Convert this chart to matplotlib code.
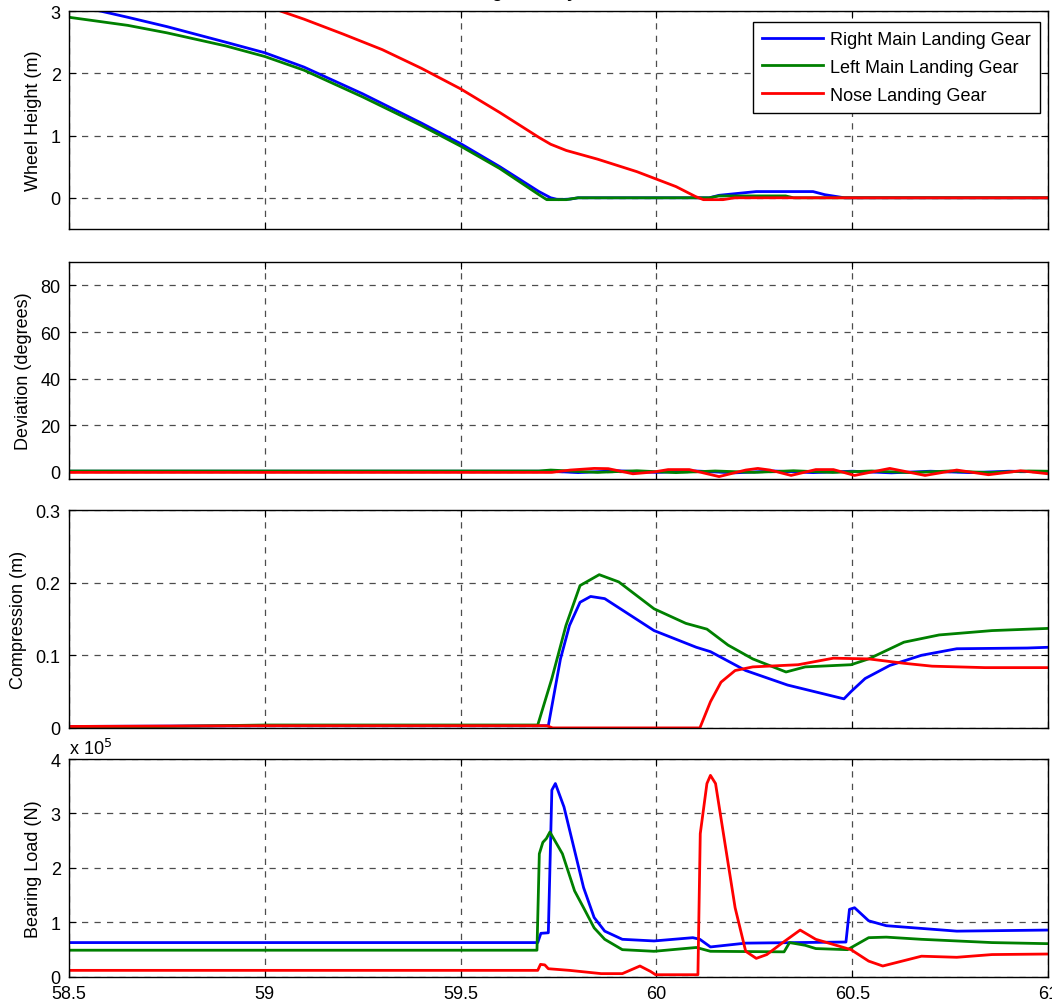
import matplotlib.pyplot as plt

plt.rcParams["font.family"] = ["Liberation Sans", "DejaVu Sans"]
plt.rcParams["font.size"] = 13

labels = ["Right Main Landing Gear", "Left Main Landing Gear", "Nose Landing Gear"]
colors = ["#0000ff", "#008000", "#ff0000"]

# --- wheel height (m) ---
h_right_t = [58.5, 58.58, 58.65, 58.75, 58.9, 59.0, 59.1, 59.25, 59.4, 59.5, 59.6, 59.65, 59.7,
             59.73, 59.75, 59.78, 59.8, 60.135, 60.16, 60.255, 60.40, 60.43, 60.48, 61.0]
h_right = [3.1, 3.0, 2.9, 2.75, 2.5, 2.33, 2.1, 1.67, 1.2, 0.87, 0.5, 0.3, 0.1,
           0.0, -0.03, -0.02, 0.0, 0.0, 0.04, 0.1, 0.1, 0.05, 0.0, 0.0]
h_left_t = [58.5, 58.65, 58.75, 58.9, 59.0, 59.1, 59.25, 59.4, 59.5, 59.6, 59.65, 59.7, 59.72,
            59.77, 59.8, 60.135, 60.16, 60.33, 60.35, 61.0]
h_left = [2.9, 2.77, 2.65, 2.44, 2.27, 2.05, 1.62, 1.16, 0.83, 0.47, 0.26, 0.05, -0.03,
          -0.03, 0.0, 0.0, 0.03, 0.03, 0.0, 0.0]
h_nose_t = [59.0, 59.04, 59.1, 59.2, 59.3, 59.4, 59.5, 59.6, 59.65, 59.7, 59.73, 59.77, 59.85,
            59.95, 60.0, 60.05, 60.1, 60.12, 60.17, 60.2, 61.0]
h_nose = [3.1, 3.0, 2.87, 2.63, 2.38, 2.08, 1.75, 1.37, 1.17, 0.97, 0.86, 0.76, 0.62,
          0.42, 0.3, 0.18, 0.02, -0.03, -0.03, 0.0, 0.0]

# --- deviation (degrees) ---
d_right_t = [58.5, 59.73, 59.8, 59.9, 60.0, 60.1, 60.2, 60.3, 60.4, 60.5, 60.6, 60.7, 60.8, 60.9, 61.0]
d_right = [0.3, 0.3, -0.3, 0.5, -0.2, 0.4, -0.4, 0.4, -0.3, 0.3, -0.4, 0.3, -0.3, 0.3, 0.0]
d_left_t = [58.5, 59.7, 59.73, 59.85, 59.95, 60.05, 60.15, 60.25, 60.35, 60.45, 60.55, 60.65, 60.75, 60.85, 60.95, 61.0]
d_left = [0.4, 0.4, 0.8, -0.2, 0.5, -0.3, 0.4, -0.2, 0.5, -0.2, 0.4, -0.3, 0.4, -0.3, 0.4, 0.3]
d_nose_t = [58.5, 59.733, 59.78, 59.841, 59.877, 59.94, 59.994, 60.03, 60.084, 60.16, 60.228,
            60.259, 60.29, 60.344, 60.407, 60.452, 60.506, 60.596, 60.686, 60.767, 60.848,
            60.93, 61.0]
d_nose = [-0.2, -0.2, 0.8, 1.5, 1.4, -0.8, 0.0, 1.0, 1.0, -2.0, 0.8,
          1.5, 0.8, -1.5, 1.0, 1.0, -1.5, 1.5, -1.5, 0.8, -1.2,
          0.5, -0.8]

# --- compression (m) ---
c_right_t = [58.5, 59.0, 59.724, 59.755, 59.778, 59.805, 59.832, 59.868, 59.994, 60.102, 60.138,
             60.228, 60.335, 60.479, 60.497, 60.533, 60.596, 60.677, 60.767, 60.947, 61.0]
c_right = [0.002, 0.003, 0.003, 0.095, 0.141, 0.173, 0.181, 0.178, 0.134, 0.111, 0.105,
           0.079, 0.059, 0.040, 0.050, 0.068, 0.086, 0.100, 0.109, 0.110, 0.111]
c_left_t = [58.5, 59.0, 59.697, 59.733, 59.769, 59.805, 59.854, 59.904, 59.994, 60.075, 60.129,
            60.183, 60.246, 60.331, 60.380, 60.497, 60.542, 60.632, 60.722, 60.857, 61.0]
c_left = [0.0, 0.004, 0.004, 0.068, 0.141, 0.196, 0.211, 0.201, 0.164, 0.144, 0.136,
          0.114, 0.095, 0.077, 0.084, 0.087, 0.095, 0.118, 0.128, 0.134, 0.137]
c_nose_t = [58.5, 59.0, 59.72, 59.735, 60.111, 60.138, 60.165, 60.201, 60.246, 60.362, 60.452,
            60.542, 60.632, 60.704, 60.839, 61.0]
c_nose = [0.002, 0.003, 0.003, 0.0, 0.0, 0.036, 0.063, 0.079, 0.084, 0.087, 0.096,
          0.095, 0.089, 0.085, 0.083, 0.083]

# --- bearing load (x 1e5 N) ---
b_right_t = [58.5, 59.697, 59.705, 59.724, 59.733, 59.742, 59.764, 59.787, 59.814, 59.841,
             59.868, 59.913, 59.994, 60.093, 60.111, 60.138, 60.228, 60.484, 60.493, 60.506,
             60.542, 60.587, 60.677, 60.767, 61.0]
b_right = [0.63, 0.63, 0.8, 0.81, 3.43, 3.55, 3.12, 2.44, 1.64, 1.09,
           0.84, 0.69, 0.66, 0.72, 0.69, 0.55, 0.62, 0.64, 1.24, 1.27,
           1.03, 0.94, 0.89, 0.84, 0.86]
b_left_t = [58.5, 59.695, 59.701, 59.710, 59.719, 59.728, 59.760, 59.791, 59.814, 59.841,
            59.868, 59.913, 59.994, 60.102, 60.138, 60.326, 60.34, 60.380, 60.407, 60.488,
            60.542, 60.587, 60.677, 60.857, 61.0]
b_left = [0.49, 0.49, 2.26, 2.47, 2.54, 2.66, 2.26, 1.58, 1.27, 0.90,
          0.69, 0.50, 0.47, 0.54, 0.47, 0.46, 0.63, 0.58, 0.52, 0.50,
          0.72, 0.73, 0.69, 0.63, 0.61]
b_nose_t = [58.5, 59.697, 59.704, 59.715, 59.724, 59.778, 59.859, 59.913, 59.958, 59.985,
            59.998, 60.106, 60.112, 60.129, 60.138, 60.151, 60.174, 60.201, 60.228, 60.255,
            60.282, 60.317, 60.367, 60.407, 60.497, 60.542, 60.578, 60.677, 60.767, 60.857,
            61.0]
b_nose = [0.12, 0.12, 0.23, 0.22, 0.15, 0.12, 0.06, 0.06, 0.20, 0.10,
          0.04, 0.04, 2.63, 3.55, 3.70, 3.55, 2.50, 1.27, 0.47, 0.34,
          0.41, 0.60, 0.86, 0.69, 0.50, 0.29, 0.20, 0.38, 0.36, 0.41,
          0.42]

x_ticks = [58.5, 59, 59.5, 60, 60.5, 61]
x_ticklabels = ["58.5", "59", "59.5", "60", "60.5", "61"]


def _style(ax, ylim, yticks, ylabel, show_x=False):
    ax.set_xlim(58.5, 61)
    ax.set_ylim(*ylim)
    ax.set_yticks(yticks)
    ax.set_xticks(x_ticks)
    if show_x:
        ax.set_xticklabels(x_ticklabels)
    else:
        ax.set_xticklabels([])
    ax.set_ylabel(ylabel, labelpad=6)
    ax.tick_params(direction="in", length=5, top=True, right=True, labelsize=13, pad=6)
    for s in ax.spines.values():
        s.set_linewidth(1.0)
        s.set_color("black")
    ax.grid(True, color="0.3", linestyle=(0, (5, 5)), linewidth=0.9)


fig = plt.figure(figsize=(10.52, 10.04), dpi=100)
L, W = 0.0656, 0.9306
ax1 = fig.add_axes([L, 0.771, W, 0.217])
ax2 = fig.add_axes([L, 0.522, W, 0.216])
ax3 = fig.add_axes([L, 0.274, W, 0.217])
ax4 = fig.add_axes([L, 0.026, W, 0.217])

lw = 2.0
for t, v, c, lab in zip([h_right_t, h_left_t, h_nose_t], [h_right, h_left, h_nose], colors, labels):
    ax1.plot(t, v, color=c, lw=lw, label=lab)
for t, v, c in zip([d_right_t, d_left_t, d_nose_t], [d_right, d_left, d_nose], colors):
    ax2.plot(t, v, color=c, lw=lw)
for t, v, c in zip([c_right_t, c_left_t, c_nose_t], [c_right, c_left, c_nose], colors):
    ax3.plot(t, v, color=c, lw=lw)
for t, v, c in zip([b_right_t, b_left_t, b_nose_t], [b_right, b_left, b_nose], colors):
    ax4.plot(t, v, color=c, lw=lw)

_style(ax1, (-0.5, 3), [0, 1, 2, 3], "Wheel Height (m)")
_style(ax2, (-3, 90), [0, 20, 40, 60, 80], "Deviation (degrees)")
_style(ax3, (0, 0.3), [0, 0.1, 0.2, 0.3], "Compression (m)")
ax3.set_yticklabels(["0", "0.1", "0.2", "0.3"])
_style(ax4, (0, 4), [0, 1, 2, 3, 4], "Bearing Load (N)", show_x=True)
ax4.text(0.0, 1.005, r"x 10$^5$", transform=ax4.transAxes, ha="left", va="bottom", fontsize=13)

leg = ax1.legend(loc="upper right", fontsize=13, frameon=True, fancybox=False,
                 edgecolor="black", framealpha=1, handlelength=3.4,
                 bbox_to_anchor=(0.9918, 0.95), borderaxespad=0, borderpad=0.5,
                 labelspacing=0.6, handletextpad=0.4)
leg.get_frame().set_linewidth(1.0)

fig.text(0.51, 1.003, "Landing Gear Dynamics", ha="center", va="baseline",
         fontsize=13, fontweight="bold")

fig.savefig("out.png", dpi=100)
